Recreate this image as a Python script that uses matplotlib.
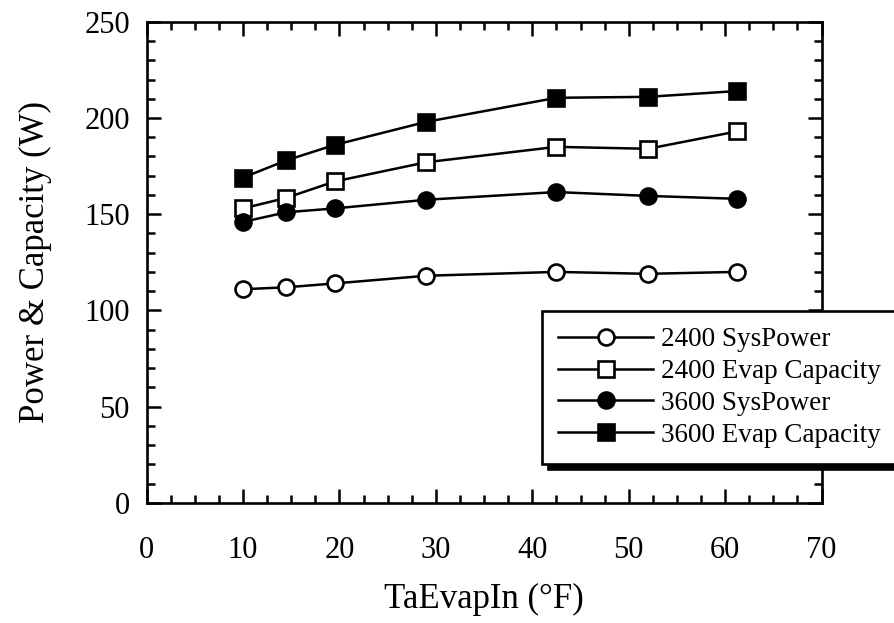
"""
Power and evaporator capacity versus evaporator inlet air temperature.
"""
import matplotlib
matplotlib.use('Agg')
import matplotlib.pyplot as plt
from matplotlib.ticker import MultipleLocator

plt.rcParams['font.family'] = ['Liberation Serif', 'DejaVu Serif']

# evaporator inlet air temperature (F)
ta_evap_in = [10, 14.5, 19.5, 29, 42.5, 52, 61.2]

# series values (W)
sys_power_2400 = [111, 112, 114, 118, 120, 119, 120]
evap_cap_2400 = [153, 158.5, 167, 177, 185, 184, 193]
sys_power_3600 = [146, 151, 153, 157.5, 161.5, 159.5, 158]
evap_cap_3600 = [169, 178, 186, 198, 210.5, 211, 214]

labels = ['2400 SysPower', '2400 Evap Capacity', '3600 SysPower', '3600 Evap Capacity']

fig = plt.figure(figsize=(8.94, 6.23), dpi=100)
ax = fig.add_axes([0.164, 0.193, 0.755, 0.772])

style = dict(color='black', lw=1.8, mew=1.9, ms=11.5)
ax.plot(ta_evap_in, sys_power_2400, marker='o', mfc='white', label=labels[0], **style)
ax.plot(ta_evap_in, evap_cap_2400, marker='s', mfc='white', label=labels[1], **style)
ax.plot(ta_evap_in, sys_power_3600, marker='o', mfc='black', label=labels[2], **style)
ax.plot(ta_evap_in, evap_cap_3600, marker='s', mfc='black', label=labels[3], **style)

ax.set_xlim(0, 70)
ax.set_ylim(0, 250)
ax.xaxis.set_major_locator(MultipleLocator(10))
ax.xaxis.set_minor_locator(MultipleLocator(2.5))
ax.yaxis.set_major_locator(MultipleLocator(50))
ax.yaxis.set_minor_locator(MultipleLocator(10))
ax.tick_params(which='both', direction='in', top=True, right=True, width=1.8,
               labelsize=22)
ax.tick_params(axis='x', pad=24)
ax.tick_params(axis='y', pad=12)
ax.tick_params(which='major', length=10)
ax.tick_params(which='minor', length=6)
for s in ax.spines.values():
    s.set_linewidth(1.9)

ax.set_xlabel('TaEvapIn (°F)', fontsize=25, labelpad=13)
ax.set_ylabel('Power & Capacity (W)', fontsize=25, labelpad=23)

leg = fig.legend(loc='upper left', bbox_to_anchor=(542 / 894, 1 - 311 / 623),
                 borderaxespad=0, fontsize=19.5, handlelength=3.5,
                 handletextpad=0.3, labelspacing=0.25, borderpad=0.6,
                 fancybox=False, framealpha=1, edgecolor='black',
                 shadow={'ox': 4, 'oy': -4, 'color': 'black', 'alpha': 1})
leg.get_frame().set_linewidth(1.9)

fig.savefig('out.png', dpi=100)
